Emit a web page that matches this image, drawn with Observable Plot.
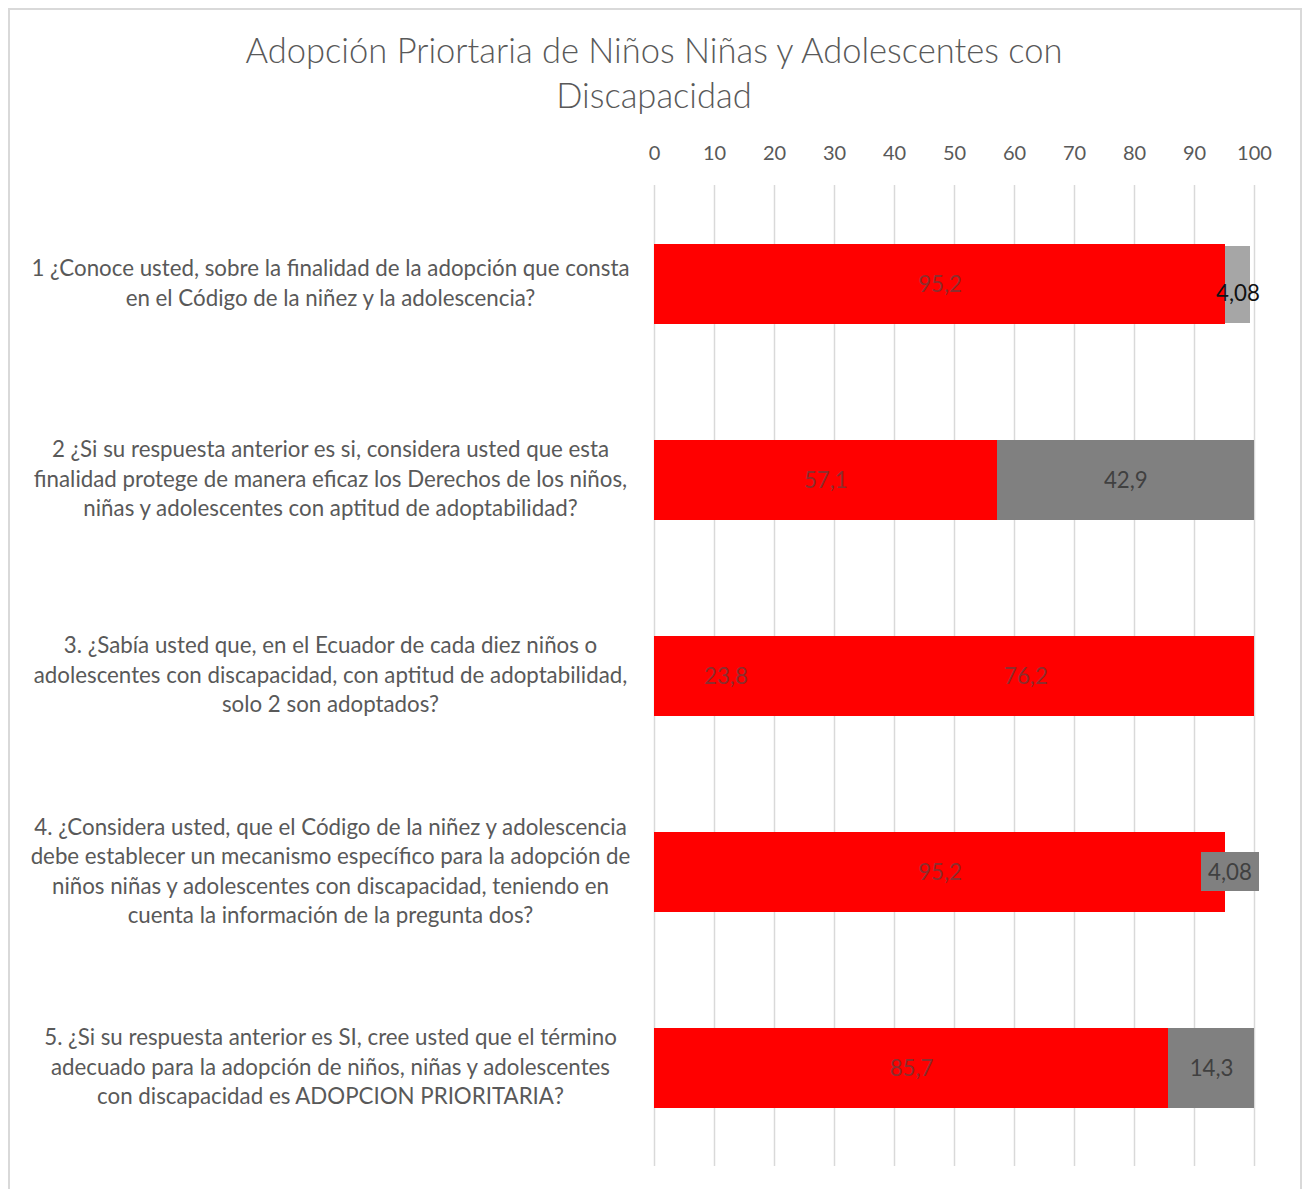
<!DOCTYPE html>
<html>
<head>
<meta charset="utf-8">
<script src="https://cdn.jsdelivr.net/npm/d3@7"></script>
<script src="https://cdn.jsdelivr.net/npm/@observablehq/plot@0.6"></script>
<style>
  html, body { margin: 0; padding: 0; background: #fff; }
  body { width: 1306px; height: 1189px; position: relative; overflow: hidden; font-family: Lato, "Open Sans", sans-serif; }
  #frame { position: absolute; left: 8px; top: 8px; width: 1294px; height: 1200px; border: 2px solid #d9d9d9; box-sizing: border-box; }
  #title { position: absolute; left: 0; top: 27px; width: 1308px; text-align: center; font-size: 34.5px; line-height: 45px; color: #595959; font-weight: 300; }
  #chart { position: absolute; left: 0; top: 128px; }
  #chart svg { display: block; }
</style>
</head>
<body>
<div id="frame"></div>
<div id="title">Adopción Priortaria de Niños Niñas y Adolescentes con<br>Discapacidad</div>
<div id="chart"></div>
<script>
// ---- data ----
const questions = [
  "1 ¿Conoce usted, sobre la finalidad de la adopción que consta\nen el Código de la niñez y la adolescencia?",
  "2 ¿Si su respuesta anterior es si, considera usted que esta\nfinalidad protege de manera eficaz los Derechos de los niños,\nniñas y adolescentes con aptitud de adoptabilidad?",
  "3. ¿Sabía usted que, en el Ecuador de cada diez niños o\nadolescentes con discapacidad, con aptitud de adoptabilidad,\nsolo 2 son adoptados?",
  "4. ¿Considera usted, que el Código de la niñez y adolescencia\ndebe establecer un mecanismo específico para la adopción de\nniños niñas y adolescentes con discapacidad, teniendo en\ncuenta la información de la pregunta dos?",
  "5. ¿Si su respuesta anterior es SI, cree usted que el término\nadecuado para la adopción de niños, niñas y adolescentes\ncon discapacidad es ADOPCION PRIORITARIA?"
];
const series = ["SI", "NO"];
const valuesSI = [95.2, 57.1, 23.8, 95.2, 85.7];
const valuesNO = [4.08, 42.9, 76.2, 4.08, 14.3];
const xTicks = [0, 10, 20, 30, 40, 50, 60, 70, 80, 90, 100];

// ---- table built from arrays ----
const rows = [];
questions.forEach((q, i) => {
  rows.push({q, i, s: series[0], v: valuesSI[i]});
  rows.push({q, i, s: series[1], v: valuesNO[i]});
});

// ---- styles (per-point formatting as in the original) ----
const RED = "#ff0000";
const isQ1No = d => d.i === 0 && d.s === "NO";
const isQ4No = d => d.i === 3 && d.s === "NO";
const segFill = d => d.s === "SI" ? RED : (d.i === 2 ? RED : (d.i === 0 ? "#a6a6a6" : "#808080"));
const labelFill = d => segFill(d) === RED ? "#8c2e2e" : (d.i === 0 ? "#111111" : "#404040");
const fmt = v => String(v).replace(".", ",");

const st = o => Plot.stackX({order: series, y: "q", x: "v", z: "s", ...o});
const FS = 22.3;

const plot = Plot.plot({
  width: 1306,
  height: 1061,
  marginLeft: 654,
  marginRight: 52,
  marginTop: 57,
  marginBottom: 23,
  style: {fontFamily: "Lato, 'Open Sans', sans-serif", background: "transparent"},
  x: {domain: [0, 100], axis: null},
  y: {type: "band", domain: questions, paddingInner: 0.593, paddingOuter: 0.2925, axis: null},
  marks: [
    Plot.gridX(xTicks, {stroke: "#d9d9d9", strokeOpacity: 1, strokeWidth: 1.5}),
    Plot.axisX(xTicks, {anchor: "top", tickSize: 0, tickPadding: 26, fontSize: 20, fill: "#595959", tickFormat: d => String(d), label: null}),
    Plot.barX(rows, st({fill: d => (isQ1No(d) || isQ4No(d)) ? "none" : segFill(d), shapeRendering: "crispEdges"})),
    Plot.barX(rows, st({fill: d => isQ1No(d) ? segFill(d) : "none", insetTop: 2, insetBottom: 1, shapeRendering: "crispEdges"})),
    // label box for question 4 "NO" value
    Plot.barX(rows, st({fill: d => isQ4No(d) ? "#808080" : "none", insetLeft: -24, insetRight: -9, insetTop: 20, insetBottom: 21, shapeRendering: "crispEdges"})),
    Plot.text(rows, st({text: d => (isQ1No(d) || isQ4No(d)) ? null : fmt(d.v), fill: labelFill, fontSize: FS})),
    Plot.text(rows, st({text: d => isQ1No(d) ? fmt(d.v) : null, fill: labelFill, fontSize: FS, dy: 9})),
    Plot.text(rows, st({text: d => isQ4No(d) ? fmt(d.v) : null, fill: labelFill, fontSize: FS, dx: -8})),
    Plot.text(questions, {
      y: d => d, text: d => d,
      frameAnchor: "left", dx: -324, dy: -3, textAnchor: "middle",
      lineHeight: 29.5 / FS, fontSize: FS, fill: "#595959"
    })
  ]
});
document.getElementById("chart").appendChild(plot);
</script>
</body>
</html>
